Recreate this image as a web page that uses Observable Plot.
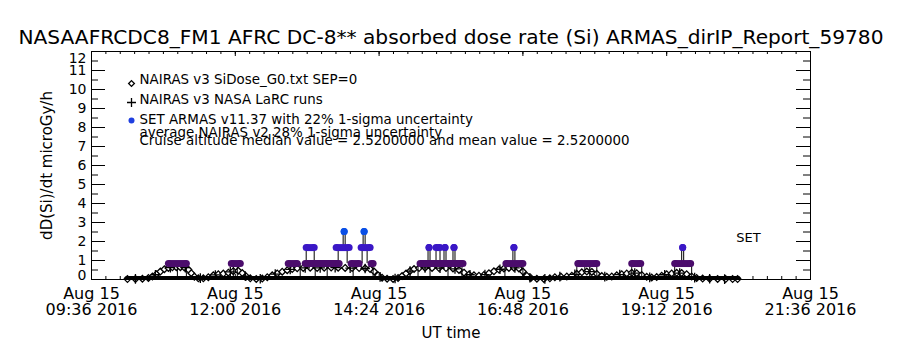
<!DOCTYPE html>
<html><head><meta charset="utf-8">
<script src="https://cdn.jsdelivr.net/npm/d3@7"></script>
<script src="https://cdn.jsdelivr.net/npm/@observablehq/plot@0.6"></script>
<style>
body{margin:0;background:#fff;}
#chart svg{display:block;}
</style></head><body><div id="chart"></div>
<script>
// ---------- texts ----------
const titleText = "NASAAFRCDC8_FM1 AFRC DC-8** absorbed dose rate (Si) ARMAS_dirIP_Report_59780";
const yLabel = "dD(Si)/dt microGy/h";
const xLabel = "UT time";
const xTickDate = "Aug 15";
const xTickYear = "2016";
const xTickTimes = ["09:36","12:00","14:24","16:48","19:12","21:36"];
const yTicks = [0,1,2,3,4,5,6,7,8,9,10,11,12];
const legendLabels = [
  "NAIRAS v3 SiDose_G0.txt SEP=0",
  "NAIRAS v3 NASA LaRC runs",
  "SET ARMAS v11.37 with 22% 1-sigma uncertainty",
  "average NAIRAS v2 28% 1-sigma uncertainty",
  "Cruise altitude median value = 2.5200000 and mean value = 2.5200000"
];
const setLabel = "SET";

// ---------- NAIRAS v3 SiDose_G0 (diamonds) ----------
const nairasTime = ["10:12","10:20","10:27","10:33","10:37","10:41","10:45","10:49","10:53","10:57","11:01","11:05","11:09","11:13","11:16","11:19","11:23","11:28","11:33","11:38","11:43","11:48","11:53","11:58","12:03","12:07","12:11","12:15","12:21","12:27","12:32","12:37","12:42","12:47","12:52","12:57","13:02","13:08","13:15","13:22","13:29","13:36","13:43","13:50","13:57","14:04","14:10","14:15","14:19","14:23","14:27","14:32","14:38","14:43","14:47","14:51","14:55","14:59","15:04","15:10","15:17","15:24","15:31","15:38","15:44","15:49","15:54","15:59","16:04","16:09","16:14","16:19","16:24","16:29","16:34","16:39","16:44","16:48","16:52","16:56","17:02","17:09","17:15","17:20","17:26","17:32","17:37","17:42","17:47","17:52","17:57","18:02","18:07","18:12","18:17","18:22","18:27","18:32","18:37","18:42","18:47","18:52","18:57","19:02","19:07","19:12","19:17","19:22","19:27","19:32","19:37","19:42","19:48","19:55","20:03","20:11","20:18","20:23"];
const nairasValue = [0.02,0.03,0.04,0.08,0.16,0.28,0.42,0.54,0.61,0.64,0.65,0.65,0.63,0.52,0.33,0.15,0.06,0.06,0.12,0.22,0.28,0.31,0.36,0.44,0.46,0.34,0.16,0.06,0.03,0.05,0.12,0.22,0.32,0.41,0.49,0.55,0.59,0.61,0.62,0.61,0.62,0.63,0.62,0.61,0.60,0.60,0.59,0.55,0.42,0.22,0.09,0.04,0.03,0.08,0.18,0.32,0.45,0.55,0.60,0.62,0.61,0.60,0.60,0.58,0.50,0.36,0.26,0.22,0.20,0.24,0.33,0.43,0.52,0.58,0.61,0.62,0.58,0.42,0.20,0.08,0.04,0.03,0.06,0.12,0.15,0.16,0.20,0.30,0.38,0.42,0.40,0.30,0.18,0.14,0.16,0.22,0.28,0.32,0.35,0.33,0.24,0.14,0.10,0.13,0.20,0.28,0.32,0.35,0.34,0.28,0.16,0.08,0.05,0.04,0.03,0.02,0.02,0.02];

// ---------- NAIRAS v3 NASA LaRC runs (plus) ----------
const larcTime = ["10:20","10:40","10:55","11:10","11:25","11:40","11:55","12:10","12:25","12:40","12:55","13:10","13:25","13:40","13:55","14:10","14:25","14:40","14:55","15:10","15:25","15:40","15:55","16:10","16:25","16:40","16:55","17:10","17:25","17:40","17:55","18:10","18:25","18:40","18:55","19:10","19:25","19:40","19:55","20:10"];
const larcValue = [0.03,0.25,0.62,0.62,0.07,0.24,0.40,0.18,0.04,0.28,0.53,0.61,0.61,0.62,0.60,0.58,0.14,0.05,0.44,0.61,0.60,0.56,0.25,0.26,0.54,0.61,0.09,0.03,0.15,0.27,0.41,0.15,0.26,0.34,0.11,0.25,0.34,0.10,0.04,0.02];

// ---------- SET ARMAS (quantised levels, runs of consecutive readings) ----------
const armasLevels = [0, 0.84, 1.68, 2.52];
const armasColors = ["#000000", "#4b0c6c", "#3a17c6", "#0a4fe6"];
const runStart = ["10:12","10:53","11:56","12:53","13:10","13:56","14:16","15:05","16:31","17:43","18:37","19:20","13:11","13:41","14:06","15:14","15:21","15:30","15:39","16:39","19:28","13:49","14:09"];
const runEnd   = ["20:23","11:11","12:05","13:02","13:44","14:04","14:18","15:48","16:48","18:02","18:46","19:36","13:19","13:54","14:15","15:14","15:25","15:30","15:39","16:39","19:28","13:49","14:09"];
const runLevel = [0,0.84,0.84,0.84,0.84,0.84,0.84,0.84,0.84,0.84,0.84,0.84,1.68,1.68,1.68,1.68,1.68,1.68,1.68,1.68,1.68,2.52,2.52];
// transitions between successive ARMAS readings (vertical connecting lines)
const stemTime = ["11:02","11:11","11:58","12:02","13:05","13:20","13:32","13:58","14:18","15:03","15:15","15:33","15:47","16:30","16:48","17:42","18:02","18:37","18:47","19:20","19:37","17:50",
  "13:11","13:19","13:43","13:52","14:07","14:12","15:13","15:15","15:21","15:25","15:29","15:31","15:38","15:40","16:38","16:40","19:27","19:29",
  "13:48","13:50","14:08","14:10"];
const stemLow  = [0,0,0,0,0,0,0,0,0,0,0,0,0,0,0,0,0,0,0,0,0,0.3,
  0.84,0.84,0.84,0.84,0.84,0.84,0.84,0.84,0.84,0.84,0.84,0.84,0.84,0.84,0.84,0.84,0.84,0.84,
  1.68,1.68,1.68,1.68];
const stemHigh = [0.84,0.84,0.84,0.84,0.84,0.84,0.84,0.84,0.84,0.84,0.84,0.84,0.84,0.84,0.84,0.84,0.84,0.84,0.84,0.84,0.84,0.84,
  1.68,1.68,1.68,1.68,1.68,1.68,1.68,1.68,1.68,1.68,1.68,1.68,1.68,1.68,1.68,1.68,1.68,1.68,
  2.52,2.52,2.52,2.52];

// ---------- build tables ----------
const parse = d3.utcParse("%Y-%m-%d %H:%M");
const T = s => parse("2016-08-15 " + s);
const nairas = nairasTime.map((t, i) => ({t: T(t), v: nairasValue[i]}));
const larc = larcTime.map((t, i) => ({t: T(t), v: larcValue[i]}));
const runs = runStart.map((s, i) => ({s: T(s), e: T(runEnd[i]), v: runLevel[i]}));
const stems = stemTime.map((t, i) => ({t: T(t), lo: stemLow[i], hi: stemHigh[i]}));
const xMajor = xTickTimes.map(T);
const xMinor = d3.range(0, 51).map(k => new Date(+xMajor[0] + k * 864000));
const yMinor = d3.range(0, 12).map(k => k + 0.5);

// ---------- layout ----------
const W = 900, H = 350, mL = 91, mR = 90, mT = 51, mB = 71;
const plotW = W - mL - mR, plotH = H - mT - mB;
const font = "DejaVu Sans";

const legendDy = [28, 48, 68, 81, 89];
const legendMarks = legendLabels.map((s, i) => Plot.text([s], {
  frameAnchor: "top-left", dx: 48, dy: legendDy[i], text: d => d,
  textAnchor: "start", lineAnchor: "middle", fontSize: 13.4, fill: "black"
}));

const chart = Plot.plot({
  width: W, height: H,
  marginLeft: mL, marginRight: mR, marginTop: mT, marginBottom: mB,
  style: {fontFamily: font, fontSize: "13px", background: "white", color: "black"},
  x: {type: "utc", domain: [xMajor[0], xMajor[xMajor.length - 1]], label: null},
  y: {domain: [0, 12], label: null},
  color: {type: "ordinal", domain: armasLevels, range: armasColors},
  marks: [
    // NAIRAS SiDose G0
    Plot.line(nairas, {x: "t", y: "v", stroke: "black", strokeWidth: 1.2}),
    Plot.dot(nairas, {x: "t", y: "v", symbol: "diamond2", r: 3, stroke: "black", fill: "white", strokeWidth: 1.3}),
    // LaRC runs
    Plot.dot(larc, {x: "t", y: "v", symbol: "plus", r: 3.2, stroke: "black", strokeWidth: 1.3}),
    // ARMAS connecting lines
    Plot.ruleX(stems, {x: "t", y1: "lo", y2: "hi", stroke: "black", strokeWidth: 1}),
    // ARMAS readings
    Plot.link(runs, {x1: "s", x2: "e", y1: "v", y2: "v", stroke: "v", strokeWidth: 7, clip: true}),
    Plot.dot(runs, {x: "s", y: "v", r: 3.5, fill: "v", clip: true}),
    Plot.dot(runs, {x: "e", y: "v", r: 3.5, fill: "v", clip: true}),
    // y tick marks (inward, both sides)
    Plot.tickY(yTicks, {y: d => d, insetRight: plotW - 14, stroke: "black"}),
    Plot.tickY(yMinor, {y: d => d, insetRight: plotW - 7, stroke: "black"}),
    Plot.tickY(yTicks, {y: d => d, insetLeft: plotW - 14, stroke: "black"}),
    Plot.tickY(yMinor, {y: d => d, insetLeft: plotW - 7, stroke: "black"}),
    // x tick marks (inward, top and bottom)
    Plot.tickX(xMinor, {x: d => d, insetTop: plotH - 3, stroke: "black"}),
    Plot.tickX(xMinor, {x: d => d, insetBottom: plotH - 3, stroke: "black"}),
    Plot.tickX(xMajor, {x: d => d, insetTop: plotH - 5, stroke: "black"}),
    Plot.tickX(xMajor, {x: d => d, insetBottom: plotH - 5, stroke: "black"}),
    // axis labels
    Plot.axisY(yTicks.slice(1, -1), {tickSize: 0, tickPadding: 5, fontSize: 14, label: null}),
    Plot.axisY([yTicks[yTicks.length - 1]], {tickSize: 0, tickPadding: 5, fontSize: 14, dy: 7, label: null}),
    Plot.axisY([yTicks[0]], {tickSize: 0, tickPadding: 5, fontSize: 14, dy: -4, label: null}),
    Plot.axisX(xMajor, {tickSize: 0, tickPadding: 8, fontSize: 16, lineHeight: 1.0, label: null,
      tickFormat: d => `${xTickDate}\n${d3.utcFormat("%H:%M")(d)} ${xTickYear}`}),
    Plot.text([xLabel], {frameAnchor: "bottom", dy: 54, text: d => d, fontSize: 15, lineAnchor: "middle"}),
    Plot.text([yLabel], {frameAnchor: "left", dx: -44, rotate: -90, text: d => d, fontSize: 15, textAnchor: "middle", lineAnchor: "middle"}),
    Plot.text([titleText], {frameAnchor: "top", dy: -14, text: d => d, fontSize: 19, lineAnchor: "middle"}),
    Plot.text([setLabel], {frameAnchor: "bottom-right", dx: -62, dy: -42, text: d => d, fontSize: 13, textAnchor: "middle", lineAnchor: "middle"}),
    // legend
    Plot.dot([0], {frameAnchor: "top-left", dx: 40, dy: 32, symbol: "diamond2", r: 2.6, stroke: "black", fill: "white", strokeWidth: 1.3}),
    Plot.dot([0], {frameAnchor: "top-left", dx: 40, dy: 51, symbol: "plus", r: 3, stroke: "black", strokeWidth: 1.3}),
    Plot.dot([0], {frameAnchor: "top-left", dx: 40, dy: 69, r: 3, fill: "#1f3fe0"}),
    ...legendMarks,
    Plot.frame({stroke: "black"})
  ]
});

document.getElementById("chart").appendChild(chart);
d3.select(chart).selectAll("text").filter(function () { return this.textContent === titleText; })
  .attr("textLength", 865).attr("lengthAdjust", "spacingAndGlyphs");
</script></body></html>
